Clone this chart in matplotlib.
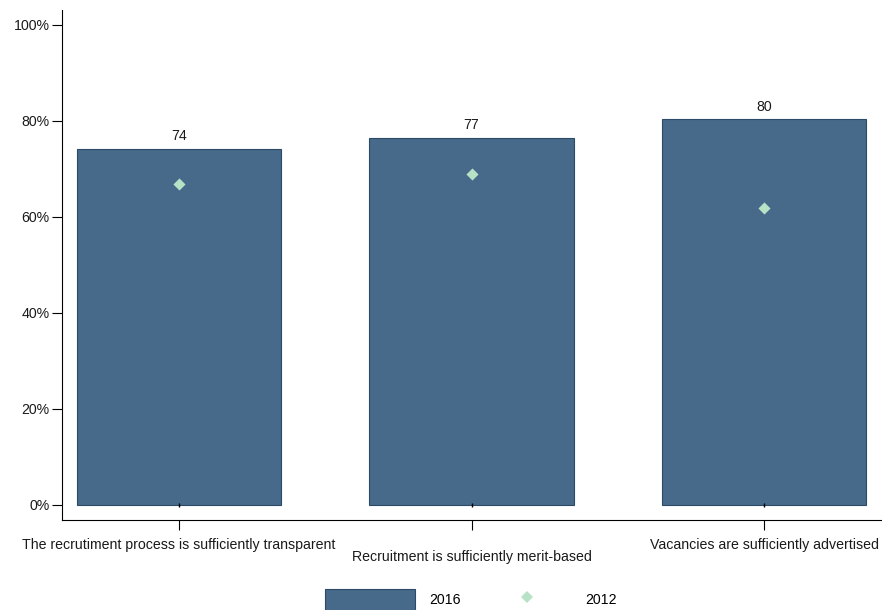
import matplotlib.pyplot as plt
from matplotlib.patches import Patch
from matplotlib.lines import Line2D

plt.rcParams['font.family'] = ['Liberation Sans', 'DejaVu Sans']

categories = ["The recrutiment process is sufficiently transparent",
              "Recruitment is sufficiently merit-based",
              "Vacancies are sufficiently advertised"]
values_2016 = [74.2, 76.5, 80.4]
labels_2016 = ["74", "77", "80"]
values_2012 = [66.9, 69.0, 61.9]
yticks = [0, 20, 40, 60, 80, 100]

bar_color = '#476a8a'
edge_color = '#2c4a66'
dot_color = '#b8e2c6'
fs = 10.2

fig = plt.figure(figsize=(8.82, 6.10), dpi=100)
ax = fig.add_axes([62 / 882, 90 / 610, 1 - 62 / 882, 510 / 610])

x = list(range(len(categories)))
ax.bar(x, values_2016, width=0.7, color=bar_color, edgecolor=edge_color, linewidth=0.8, zorder=2)
ax.scatter(x, values_2012, marker='D', s=38, color=dot_color, zorder=3, linewidths=0)
# small black dots at bar bases
ax.scatter(x, [0] * len(x), marker='|', s=6, color='black', zorder=3, linewidths=1)

for xi, v, lab in zip(x, values_2016, labels_2016):
    ax.annotate(lab, (xi, v), xytext=(0, 3.8), textcoords='offset points',
                ha='center', va='bottom', fontsize=fs, color='#1a1a1a')

ax.set_xlim(-0.4, 2.403)
ax.set_ylim(-3.125, 103.1)
ax.set_yticks(yticks)
ax.set_yticklabels([f"{t}%" for t in yticks], fontsize=fs, color='#1a1a1a')
ax.set_xticks(x)
ax.set_xticklabels(["", "", ""])
for xi, cat in zip(x, categories):
    off = -26.5 if xi == 1 else -17.8
    ax.annotate(cat, (xi, -3.125), xytext=(0, off), textcoords='offset points',
                ha='center', va='center', fontsize=fs, color='#1a1a1a', annotation_clip=False)

ax.spines['top'].set_visible(False)
ax.spines['right'].set_visible(False)
ax.tick_params(axis='both', direction='out', length=7, width=0.8, color='black')
ax.tick_params(axis='y', pad=2)

handles = [Patch(facecolor=bar_color, edgecolor=edge_color, linewidth=0.8, label='2016'),
           Line2D([], [], marker='D', linestyle='none', markersize=6, color=dot_color,
                  markeredgewidth=0, label='2012')]
fig.legend(handles=handles, loc='upper center', bbox_to_anchor=(471 / 882, 21 / 610),
           ncol=2, frameon=False, fontsize=fs, handlelength=6.35, handleheight=2.0,
           handletextpad=1.0, columnspacing=1.5, borderaxespad=0, borderpad=0)

fig.savefig('out.png', dpi=100)
